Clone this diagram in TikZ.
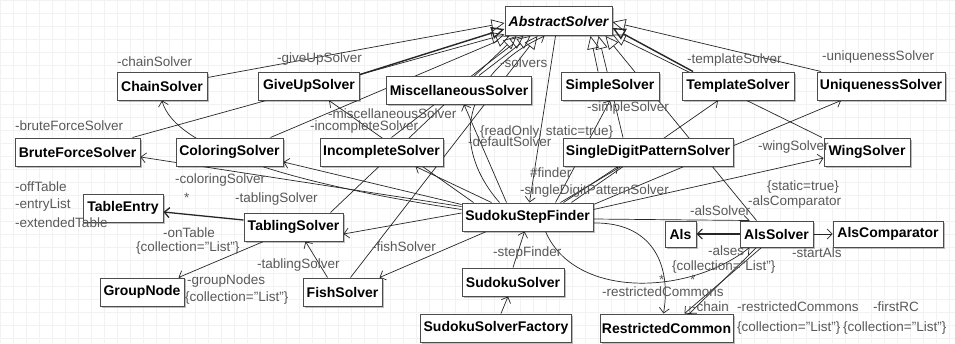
\documentclass[tikz,border=0pt]{standalone}
\usepackage{fontspec}
\setmainfont{Liberation Sans}
\usetikzlibrary{arrows.meta,shadows,calc}
\pgfdeclarelayer{gridlayer}
\pgfdeclarelayer{edgelayer}
\pgfsetlayers{gridlayer,edgelayer,main}
\begin{document}
\begin{tikzpicture}[x=1pt,y=-1pt,
  cls/.style={draw=black!70, line width=1pt, fill=white, inner sep=0pt,
    minimum height=28pt, font=\fontsize{14}{16}\selectfont\bfseries,
    drop shadow={shadow xshift=1.5pt,shadow yshift=-1.5pt,opacity=0.25,fill=black}},
  lbl/.style={anchor=west, inner sep=0pt, text=black!65, font=\fontsize{13.5}{15}\selectfont},
  gen/.style={draw=black!85, line width=0.7pt, -{Triangle[open,length=13pt,width=12pt]}},
  assoc/.style={draw=black!85, line width=0.7pt, -{Straight Barb[length=5pt,width=10pt]}},
  plain/.style={draw=black!85, line width=0.7pt},
  gridc/.style={draw=black!5, line width=0.5pt}
]
\useasboundingbox (0,0) rectangle (955,343);
\begin{pgfonlayer}{gridlayer}
  \fill[white] (0,0) rectangle (955,343);
  \foreach \i in {0,13,...,949} {\draw[gridc] (\i,0) -- (\i,343);}
  \foreach \j in {0,13,...,338} {\draw[gridc] (0,\j) -- (955,\j);}
\end{pgfonlayer}

% ---------- classes ----------
\node[cls, minimum width=107pt, minimum height=29pt, font=\fontsize{14}{16}\selectfont\bfseries\itshape] (abs) at (558.5,21) {AbstractSolver};
\node[cls, minimum width=90pt]  (chain)    at (162,86)   {ChainSolver};
\node[cls, minimum width=101pt] (giveup)   at (309,86)   {GiveUpSolver};
\node[cls, minimum width=145pt] (misc)     at (459,90)   {MiscellaneousSolver};
\node[cls, minimum width=98pt]  (simple)   at (610,86)   {SimpleSolver};
\node[cls, minimum width=112pt] (template) at (738,86)   {TemplateSolver};
\node[cls, minimum width=128pt] (uniq)     at (881,86)   {UniquenessSolver};
\node[cls, minimum width=125pt] (brute)    at (77.5,152) {BruteForceSolver};
\node[cls, minimum width=107pt] (coloring) at (229.5,152) {ColoringSolver};
\node[cls, minimum width=123pt] (incomplete) at (381.5,152) {IncompleteSolver};
\node[cls, minimum width=170pt] (sdps)     at (648,152)  {SingleDigitPatternSolver};
\node[cls, minimum width=86pt]  (wing)     at (867,152)  {WingSolver};
\node[cls, minimum width=80pt]  (tableentry) at (123,208) {TableEntry};
\node[cls, minimum width=99pt]  (tabling)  at (293.5,227) {TablingSolver};
\node[cls, minimum width=131pt] (ssf)      at (527.5,217) {SudokuStepFinder};
\node[cls, minimum width=31pt, minimum height=26pt]  (als)       at (680.5,234) {Als};
\node[cls, minimum width=73pt, minimum height=26pt]  (alssolver) at (776.5,234) {AlsSolver};
\node[cls, minimum width=110pt, minimum height=26pt] (alscomp)   at (888,234)   {AlsComparator};
\node[cls, minimum width=84pt]  (groupnode) at (142,292)  {GroupNode};
\node[cls, minimum width=79pt]  (fish)      at (342.5,292) {FishSolver};
\node[cls, minimum width=102pt] (sudokusolver) at (513,282) {SudokuSolver};
\node[cls, minimum width=151pt] (factory)   at (496,328)  {SudokuSolverFactory};
\node[cls, minimum width=133pt] (rc)        at (666.5,328) {RestrictedCommon};

% ---------- tips on AbstractSolver ----------
\coordinate (tchain) at ($(abs.south west)+(0,-13)$);
\coordinate (tgive)  at ($(abs.south west)+(0,-7)$);
\coordinate (tbrute) at ($(abs.south west)+(0,-1.5)$);
\coordinate (tcolor) at ($(abs.south west)+(5,0)$);
\coordinate (ttabl)  at ($(abs.south west)+(12,0)$);
\coordinate (tincomp) at ($(abs.south west)+(19,0)$);
\coordinate (tmisc)  at ($(abs.south west)+(26,0)$);
\coordinate (tfish)  at ($(abs.south west)+(33,0)$);
\coordinate (tsolv)  at ($(abs.south west)+(40,0)$);
\coordinate (tsimple) at ($(abs.south east)+(-22,0)$);
\coordinate (tsdps)  at ($(abs.south east)+(-14,0)$);
\coordinate (tals)   at ($(abs.south east)+(-7,0)$);
\coordinate (twing)  at ($(abs.south east)+(0,-1.5)$);
\coordinate (ttempl) at ($(abs.south east)+(0,-8)$);
\coordinate (tuniq)  at ($(abs.south east)+(0,-14)$);

\begin{pgfonlayer}{edgelayer}
% generalizations
\draw[gen] ([yshift=-6pt]chain.north east) -- (tchain);
\draw[gen, line width=1.4pt] ([yshift=-3pt]giveup.north east) -- (tgive);
\draw[gen] ([xshift=-8pt]brute.north east) -- (tbrute);
\draw[gen] ([xshift=-13pt]coloring.north east) -- (tcolor);
\draw[gen] ([xshift=-13pt]tabling.north east) -- (ttabl);
\draw[gen] ([xshift=10pt]incomplete.north) -- (tincomp);
\draw[gen] ([xshift=20pt]misc.north) -- (tmisc);
\draw[gen] ([xshift=8pt]fish.north) -- (tfish);
\draw[gen] ([xshift=-12pt]simple.north) -- (tsimple);
\draw[gen] ([xshift=-25pt]sdps.north) -- (tsdps);
\draw[gen] ([xshift=-20pt]alssolver.north) -- (tals);
\draw[gen] ([xshift=-45pt]wing.north) -- (twing);
\draw[gen, line width=1.4pt] ([xshift=-45pt]template.north) -- (ttempl);
\draw[gen] ([xshift=-60pt]uniq.north) -- (tuniq);

% associations from SudokuStepFinder
\draw[assoc] ([yshift=-4pt]ssf.north west) -- ([yshift=-5pt]brute.east);
\draw[assoc] ([yshift=-2pt]ssf.north west) -- ([yshift=-10pt]coloring.east);
\draw[assoc] ([yshift=-7pt]ssf.north west) .. controls (300,185) and (175,150) .. (chain.south);
\draw[assoc] ([yshift=4pt]ssf.west) -- ([yshift=-7pt]tabling.east);
\draw[assoc] ([xshift=30pt]ssf.north west) -- ([xshift=-28pt]incomplete.south east);
\draw[assoc] ([xshift=12pt]ssf.north west) -- ([xshift=20pt]giveup.south);
\draw[assoc] ([xshift=45pt]ssf.north west) -- ([xshift=5pt]misc.south);
\draw[assoc] ([xshift=38pt]ssf.north west) .. controls (445,140) and (470,70) .. (tsolv);
\draw[assoc] ([xshift=-3pt]abs.south) -- ([xshift=2pt]ssf.north);
\draw[assoc] ([xshift=-38pt]ssf.north east) -- (simple.south);
\draw[plain] ([xshift=-33pt]ssf.north east) -- ([xshift=-27pt]sdps.south);
\draw[assoc] ([xshift=-30pt]ssf.north east) -- ([xshift=-30pt]sdps.south);
\draw[assoc] ([xshift=-22pt]ssf.north east) -- ([xshift=-20pt]template.south);
\draw[assoc] ([yshift=-2pt]ssf.north east) -- ([xshift=-40pt]uniq.south);
\draw[assoc] ([yshift=-7pt]ssf.north east) -- ([yshift=-6pt]wing.west);
\draw[assoc] ([yshift=-2pt]ssf.east) -- ([xshift=10pt]alssolver.north west);
\draw[assoc] ([xshift=25pt]ssf.south west) -- ([xshift=-3pt]fish.north east);
\draw[assoc] ([yshift=-6pt]ssf.east) .. controls (650,222) and (672,262) .. ([xshift=-3pt]rc.north);
\draw[assoc] ([xshift=-48pt]ssf.south east) .. controls (575,300) and (690,295) .. ([xshift=10pt]alssolver.south west);

% other associations
\draw[assoc, line width=1.3pt] ([yshift=7pt]tabling.west) -- ([yshift=-4pt]tableentry.east);
\draw[assoc] ([xshift=-30pt]tabling.south) -- ([xshift=-6pt]groupnode.north east);
\draw[assoc] ([xshift=-15pt]fish.north) -- ([xshift=12pt]tabling.south);
\draw[assoc] (sudokusolver.north) -- ([xshift=-3pt]ssf.south);
\draw[assoc] ([xshift=5pt]factory.north) -- ([xshift=-5pt]sudokusolver.south);
\draw[assoc, line width=1.1pt] (alssolver.west) -- (als.east);
\draw[assoc] (alssolver.east) -- (alscomp.west);
\draw[assoc] ([xshift=-15pt]alssolver.south) -- ([xshift=18pt]rc.north);
\draw[assoc] ([xshift=-20pt]alssolver.south) -- ([xshift=23pt]rc.north);
\end{pgfonlayer}

% ---------- role labels ----------
\node[lbl] (l1)  at (117,62)  {-chainSolver};
\node[lbl] (l2)  at (277,59)  {-giveUpSolver};
\node[lbl] (l3)  at (500,63)  {-solvers};
\node[lbl] (l4)  at (687,60)  {-templateSolver};
\node[lbl] (l5)  at (822,57)  {-uniquenessSolver};
\node[lbl] (l6)  at (587,108) {-simpleSolver};
\node[lbl] (l7)  at (328,114) {-miscellaneousSolver};
\node[lbl] (l8)  at (310,127) {-incompleteSolver};
\node[lbl] (l9)  at (15,126)  {-bruteForceSolver};
\node[lbl] (l10) at (480,132) {\{readOnly, static=true\}};
\node[lbl] (l11) at (468,142) {-defaultSolver};
\node[lbl] (l12) at (530,173) {\#finder};
\node[lbl] (l13) at (520,191) {-singleDigitPatternSolver};
\node[lbl] (l14) at (758,147) {-wingSolver};
\node[lbl] (l15) at (175,180) {-coloringSolver};
\node[lbl] (l16) at (184,198) {*};
\node[lbl] (l17) at (235,199) {-tablingSolver};
\node[lbl] (l18) at (15,187)  {-offTable};
\node[lbl] (l19) at (15,205)  {-entryList};
\node[lbl] (l20) at (15,223)  {-extendedTable};
\node[lbl] (l21) at (163,233) {-onTable};
\node[lbl] (l22) at (136,248) {\{collection="List"\}};
\node[lbl] (l23) at (187,281) {-groupNodes};
\node[lbl] (l24) at (185,298) {\{collection="List"\}};
\node[lbl] (l25) at (257,265) {-tablingSolver};
\node[lbl] (l26) at (372,247) {-fishSolver};
\node[lbl] (l27) at (493,253) {-stepFinder};
\node[lbl] (l28) at (767,187) {\{static=true\}};
\node[lbl] (l29) at (748,202) {-alsComparator};
\node[lbl] (l30) at (690,211) {-alsSolver};
\node[lbl] (l31) at (708,251) {-alses};
\node[lbl] (l32) at (672,267) {\{collection="List"\}};
\node[lbl] (l33) at (792,253) {-startAls};
\node[lbl] (l34) at (602,292) {-restrictedCommons};
\node[lbl] (l35) at (692,307) {-chain};
\node[lbl] (l36) at (737,307) {-restrictedCommons};
\node[lbl] (l37) at (873,307) {-firstRC};
\node[lbl] (l38) at (737,328) {\{collection="List"\}};
\node[lbl] (l39) at (843,328) {\{collection="List"\}};
\node[lbl] (l40) at (659,280) {*};
\node[lbl] (l41) at (690,280) {*};
\end{tikzpicture}
\end{document}
